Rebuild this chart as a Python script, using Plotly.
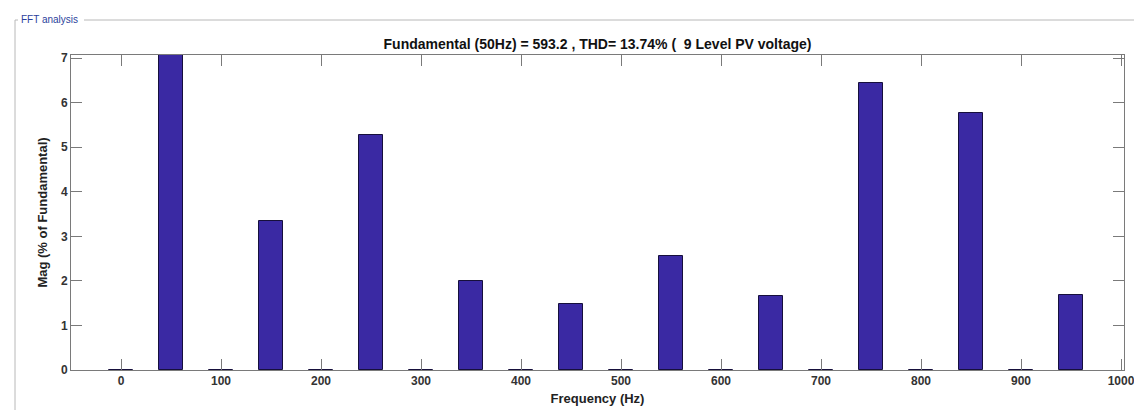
import plotly.graph_objects as go

# Harmonic bins (Hz) and magnitudes (% of fundamental)
freqs = [0, 50, 100, 150, 200, 250, 300, 350, 400, 450, 500, 550, 600, 650, 700, 750, 800, 850, 900, 950]
mags = [0.01, 100.0, 0.01, 3.34, 0.01, 5.28, 0.01, 2.0, 0.01, 1.48, 0.01, 2.56, 0.01, 1.67, 0.01, 6.45, 0.01, 5.76, 0.01, 1.69]

x_ticks = [0, 100, 200, 300, 400, 500, 600, 700, 800, 900, 1000]
y_ticks = [0, 1, 2, 3, 4, 5, 6, 7]

title_text = "Fundamental (50Hz) = 593.2 , THD= 13.74% (  9 Level PV voltage)"

W, H = 1142, 410
L, R, T, B = 63, 26, 47, 48
pw, ph = W - L - R, H - T - B

def px(x):
    return (x - L) / pw

def py(y):
    return (H - B - y) / ph

axis_col = "#7a7a7a"
font_fam = "Liberation Sans, Arial, sans-serif"

fig = go.Figure()
fig.add_trace(go.Bar(
    x=freqs, y=mags, width=24,
    marker=dict(color="#3a29a3", line=dict(color="#160f3c", width=1)),
))

fig.update_layout(
    template="none",
    width=W, height=H,
    margin=dict(l=L, r=R, t=T, b=B, autoexpand=False),
    paper_bgcolor="white", plot_bgcolor="white",
    showlegend=False,
    bargap=0,
    font=dict(family=font_fam, color="#333333", size=12),
    title=dict(text=title_text, x=0.5, xref="paper", xanchor="center",
               y=(H - 36) / H, yanchor="middle",
               font=dict(size=14, color="#111111", family=font_fam, weight="bold")),
)

fig.update_xaxes(
    automargin=False,
    range=[-50, 1003], tickvals=x_ticks, ticktext=[str(v) for v in x_ticks],
    showgrid=False, zeroline=False, showline=True, linecolor=axis_col, linewidth=1,
    mirror="ticks", ticks="inside", ticklen=11, tickcolor=axis_col, tickwidth=1,
    tickfont=dict(size=12, color="#333333", weight="bold"),
    title=dict(text="Frequency (Hz)", standoff=6,
               font=dict(size=13, color="#222222", weight="bold")),
)
fig.update_yaxes(
    automargin=False,
    range=[0, 7.07], tickvals=y_ticks, ticktext=[str(v) for v in y_ticks],
    showgrid=False, zeroline=False, showline=True, linecolor=axis_col, linewidth=1,
    mirror="ticks", ticks="inside", ticklen=11, tickcolor=axis_col, tickwidth=1,
    tickfont=dict(size=12, color="#333333", weight="bold"),
    title=dict(text="Mag (% of Fundamental)", standoff=10,
               font=dict(size=13, color="#222222", weight="bold")),
)

panel_col = "#b8b8b8"
shapes = [
    dict(type="line", xref="paper", yref="paper", x0=px(7), x1=px(10), y0=py(12), y1=py(12),
         line=dict(color=panel_col, width=1)),
    dict(type="line", xref="paper", yref="paper", x0=px(76), x1=px(1142), y0=py(12), y1=py(12),
         line=dict(color=panel_col, width=1)),
    dict(type="line", xref="paper", yref="paper", x0=px(7), x1=px(7), y0=py(12), y1=py(409),
         line=dict(color=panel_col, width=1)),
]
fig.update_layout(shapes=shapes)
fig.add_annotation(text="FFT analysis", xref="paper", yref="paper", x=px(11), y=py(12),
                   xanchor="left", yanchor="middle", showarrow=False,
                   font=dict(size=10, color="#2b3f9c", family=font_fam))

fig.write_html("out.html")
